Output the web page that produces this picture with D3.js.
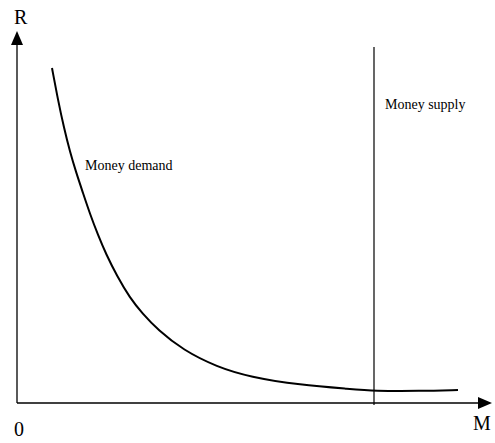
<!DOCTYPE html>
<html><head><meta charset="utf-8">
<script src="https://cdn.jsdelivr.net/npm/d3@7"></script>
<style>body{margin:0;background:#fff}svg{display:block}</style>
</head><body><svg id="c" width="495" height="443"></svg>
<script>
// Money demand curve (M, R) in chart units
const demandM = [35, 41, 47, 53, 59, 66, 73, 81, 89, 100, 113, 125, 141, 166, 200, 233, 283, 333, 357, 403, 441];
const demandR = [335, 303, 275, 251, 231, 210, 189, 168, 149, 127, 105, 90, 73, 53, 36, 26, 18, 14, 12, 12, 13];
const supplyM = [357];
const supplyR = [-2, 356];
const axisLabels = ["R", "M", "0"];
const curveLabels = ["Money demand", "Money supply"];

const FONT = "'Liberation Serif', 'Times New Roman', Times, serif";
const svg = d3.select("#c");
const x = d3.scaleLinear().domain([0, 475]).range([17, 492]);
const y = d3.scaleLinear().domain([0, 372]).range([403, 31]);

// axes
svg.append("line").attr("x1", x(0)).attr("x2", x(462)).attr("y1", y(0)).attr("y2", y(0)).attr("stroke", "#000").attr("stroke-width", 1.3);
svg.append("line").attr("x1", x(0)).attr("x2", x(0)).attr("y1", y(0)).attr("y2", y(360)).attr("stroke", "#000").attr("stroke-width", 1.3);
// arrows
svg.append("path").attr("d", `M${x(475)},${y(0)} L${x(461)},${y(0)-6} L${x(461)},${y(0)+6} Z`).attr("fill", "#000");
svg.append("path").attr("d", `M${x(0)},${y(372)} L${x(0)-6},${y(358)} L${x(0)+6},${y(358)} Z`).attr("fill", "#000");

// supply
svg.append("line").attr("x1", x(supplyM[0])).attr("x2", x(supplyM[0])).attr("y1", y(supplyR[0])).attr("y2", y(supplyR[1])).attr("stroke", "#000").attr("stroke-width", 1.2);

// demand
const pts = demandM.map((m, i) => [m, demandR[i]]);
svg.append("path").datum(pts)
  .attr("d", d3.line().x(d => x(d[0])).y(d => y(d[1])).curve(d3.curveBasis))
  .attr("fill", "none").attr("stroke", "#000").attr("stroke-width", 2);

// labels
const t = (xx, yy, s, txt) => svg.append("text").attr("x", xx).attr("y", yy).attr("font-size", s).attr("font-family", FONT).attr("fill", "#000").text(txt);
t(14, 24, 20, axisLabels[0]);
t(473, 430, 20, axisLabels[1]);
t(14, 436, 20, axisLabels[2]);
t(85, 170, 14, curveLabels[0]);
t(385, 109, 14, curveLabels[1]);
</script></body></html>
